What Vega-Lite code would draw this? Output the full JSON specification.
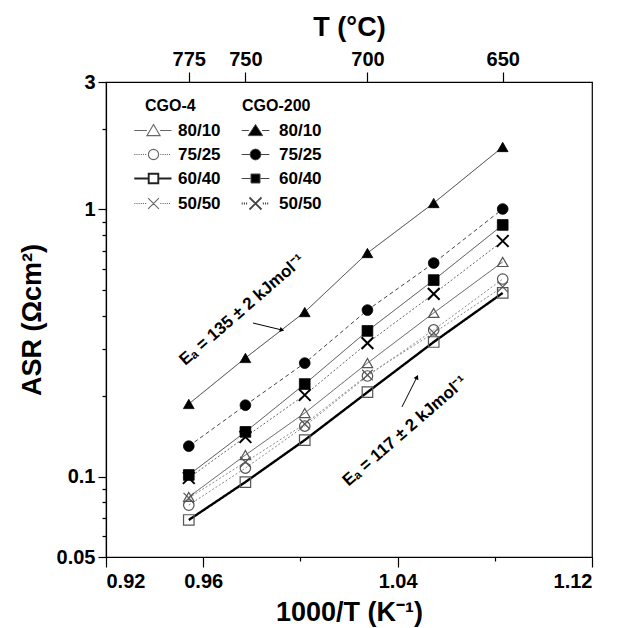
{
  "$schema": "https://vega.github.io/schema/vega-lite/v6.json",
  "width": 486,
  "height": 475,
  "autosize": {"type": "none"},
  "padding": {"left": 106, "top": 82, "right": 43, "bottom": 71},
  "background": "white",
  "config": {
    "font": "Liberation Sans",
    "view": {"stroke": "black", "strokeWidth": 1.2},
    "axis": {
      "domainColor": "black", "tickColor": "black", "labelColor": "black", "titleColor": "black",
      "labelFont": "Liberation Sans", "titleFont": "Liberation Sans",
      "labelFontWeight": "bold", "titleFontWeight": "bold",
      "labelFontSize": 20, "titleFontSize": 27, "grid": false,
      "domainWidth": 1.2, "tickWidth": 1.2
    },
    "legend": {
      "labelFont": "Liberation Sans", "labelFontSize": 17, "labelFontWeight": "bold", "labelColor": "black",
      "titleFont": "Liberation Sans", "titleFontSize": 16, "titleFontWeight": "bold", "titleColor": "black"
    }
  },
  "datasets": {
    "asr": [
      {"group": "CGO-200", "ratio": "80/10", "x": 0.95407, "asr": 0.187},
      {"group": "CGO-200", "ratio": "80/10", "x": 0.97737, "asr": 0.278},
      {"group": "CGO-200", "ratio": "80/10", "x": 1.00179, "asr": 0.413},
      {"group": "CGO-200", "ratio": "80/10", "x": 1.02759, "asr": 0.687},
      {"group": "CGO-200", "ratio": "80/10", "x": 1.05486, "asr": 1.057},
      {"group": "CGO-200", "ratio": "80/10", "x": 1.08325, "asr": 1.713},
      {"group": "CGO-200", "ratio": "75/25", "x": 0.95407, "asr": 0.130},
      {"group": "CGO-200", "ratio": "75/25", "x": 0.97737, "asr": 0.185},
      {"group": "CGO-200", "ratio": "75/25", "x": 1.00179, "asr": 0.266},
      {"group": "CGO-200", "ratio": "75/25", "x": 1.02759, "asr": 0.420},
      {"group": "CGO-200", "ratio": "75/25", "x": 1.05486, "asr": 0.630},
      {"group": "CGO-200", "ratio": "75/25", "x": 1.08325, "asr": 1.004},
      {"group": "CGO-200", "ratio": "60/40", "x": 0.95407, "asr": 0.1014},
      {"group": "CGO-200", "ratio": "60/40", "x": 0.97737, "asr": 0.147},
      {"group": "CGO-200", "ratio": "60/40", "x": 1.00179, "asr": 0.222},
      {"group": "CGO-200", "ratio": "60/40", "x": 1.02759, "asr": 0.351},
      {"group": "CGO-200", "ratio": "60/40", "x": 1.05486, "asr": 0.544},
      {"group": "CGO-200", "ratio": "60/40", "x": 1.08325, "asr": 0.875},
      {"group": "CGO-200", "ratio": "50/50", "x": 0.95407, "asr": 0.0988},
      {"group": "CGO-200", "ratio": "50/50", "x": 0.97737, "asr": 0.1407},
      {"group": "CGO-200", "ratio": "50/50", "x": 1.00179, "asr": 0.202},
      {"group": "CGO-200", "ratio": "50/50", "x": 1.02759, "asr": 0.316},
      {"group": "CGO-200", "ratio": "50/50", "x": 1.05486, "asr": 0.483},
      {"group": "CGO-200", "ratio": "50/50", "x": 1.08325, "asr": 0.762},
      {"group": "CGO-4", "ratio": "80/10", "x": 0.95407, "asr": 0.0839},
      {"group": "CGO-4", "ratio": "80/10", "x": 0.97737, "asr": 0.1204},
      {"group": "CGO-4", "ratio": "80/10", "x": 1.00179, "asr": 0.173},
      {"group": "CGO-4", "ratio": "80/10", "x": 1.02759, "asr": 0.266},
      {"group": "CGO-4", "ratio": "80/10", "x": 1.05486, "asr": 0.410},
      {"group": "CGO-4", "ratio": "80/10", "x": 1.08325, "asr": 0.636},
      {"group": "CGO-4", "ratio": "75/25", "x": 0.95407, "asr": 0.0782},
      {"group": "CGO-4", "ratio": "75/25", "x": 0.97737, "asr": 0.1076},
      {"group": "CGO-4", "ratio": "75/25", "x": 1.00179, "asr": 0.1546},
      {"group": "CGO-4", "ratio": "75/25", "x": 1.02759, "asr": 0.238},
      {"group": "CGO-4", "ratio": "75/25", "x": 1.05486, "asr": 0.354},
      {"group": "CGO-4", "ratio": "75/25", "x": 1.08325, "asr": 0.549},
      {"group": "CGO-4", "ratio": "60/40", "x": 0.95407, "asr": 0.0688},
      {"group": "CGO-4", "ratio": "60/40", "x": 0.97737, "asr": 0.0954},
      {"group": "CGO-4", "ratio": "60/40", "x": 1.00179, "asr": 0.137},
      {"group": "CGO-4", "ratio": "60/40", "x": 1.02759, "asr": 0.207},
      {"group": "CGO-4", "ratio": "60/40", "x": 1.05486, "asr": 0.319},
      {"group": "CGO-4", "ratio": "60/40", "x": 1.08325, "asr": 0.487},
      {"group": "CGO-4", "ratio": "50/50", "x": 0.95407, "asr": 0.0831},
      {"group": "CGO-4", "ratio": "50/50", "x": 0.97737, "asr": 0.1134},
      {"group": "CGO-4", "ratio": "50/50", "x": 1.00179, "asr": 0.1573},
      {"group": "CGO-4", "ratio": "50/50", "x": 1.02759, "asr": 0.240},
      {"group": "CGO-4", "ratio": "50/50", "x": 1.05486, "asr": 0.345},
      {"group": "CGO-4", "ratio": "50/50", "x": 1.08325, "asr": 0.513}
    ],
    "notes": [
      {"label": "Eₐ = 135 ± 2 kJmol⁻¹", "x": 0.976, "asr": 0.42},
      {"label": "Eₐ = 117 ± 2 kJmol⁻¹", "x": 1.043, "asr": 0.148}
    ],
    "arrows": [
      {"id": "upper", "end": 0, "x": 0.9805, "asr": 0.3757},
      {"id": "upper", "end": 1, "x": 0.99243, "asr": 0.3537},
      {"id": "lower", "end": 0, "x": 1.04181, "asr": 0.1823},
      {"id": "lower", "end": 1, "x": 1.04798, "asr": 0.2359}
    ]
  },
  "encoding": {
    "x": {"field": "x", "type": "quantitative", "scale": {"type": "linear", "domain": [0.92, 1.12], "nice": false, "zero": false}, "axis": null},
    "y": {
      "field": "asr", "type": "quantitative",
      "scale": {"type": "log", "domain": [0.05, 3], "nice": false},
      "axis": {
        "title": "ASR (Ωcm²)", "orient": "left",
        "values": [0.05, 0.06, 0.07, 0.08, 0.09, 0.1, 0.2, 0.3, 0.4, 0.5, 0.6, 0.7, 0.8, 0.9, 1, 2, 3],
        "labelExpr": "datum.value === 3 ? '3' : datum.value === 1 ? '1' : datum.value === 0.1 ? '0.1' : datum.value === 0.05 ? '0.05' : ''",
        "tickSize": {"condition": {"test": "datum.value === 3 || datum.value === 1 || datum.value === 0.1 || datum.value === 0.05", "value": 8}, "value": 4},
        "labelPadding": 3, "titlePadding": 10, "labelOverlap": false
      }
    }
  },
  "layer": [
    {
      "data": {"name": "asr"},
      "transform": [{"filter": "datum.group === 'CGO-4'"}],
      "mark": {"type": "line"},
      "encoding": {
        "x": {"field": "x", "type": "quantitative", "scale": {"type": "linear", "domain": [0.92, 1.12], "nice": false, "zero": false},
          "axis": {
            "title": "1000/T (K⁻¹)", "orient": "bottom",
            "values": [0.92, 0.96, 1.0, 1.04, 1.08, 1.12],
            "labelExpr": "datum.value === 1 || abs(datum.value - 1.08) < 0.0001 ? '' : format(datum.value, '.2f')",
            "tickSize": {"condition": {"test": "datum.value === 1 || abs(datum.value - 1.08) < 0.0001", "value": 4}, "value": 10},
            "labelPadding": 4, "titlePadding": 8, "labelOverlap": false
          }},
        "color": {"field": "ratio", "type": "nominal", "scale": {"type": "ordinal", "domain": ["80/10", "75/25", "60/40", "50/50"], "range": ["#555555", "#8a8a8a", "#000000", "#8a8a8a"]}, "legend": null},
        "strokeDash": {"field": "ratio", "type": "nominal", "scale": {"type": "ordinal", "domain": ["80/10", "75/25", "60/40", "50/50"], "range": [[1, 0], [2, 2], [1, 0], [2, 2]]}, "legend": null},
        "strokeWidth": {"field": "ratio", "type": "nominal", "scale": {"type": "ordinal", "domain": ["80/10", "75/25", "60/40", "50/50"], "range": [1, 1, 2.4, 1]}, "legend": null}
      }
    },
    {
      "data": {"name": "asr"},
      "transform": [{"filter": "datum.group === 'CGO-200'"}],
      "mark": {"type": "line"},
      "encoding": {
        "color": {"field": "ratio", "type": "nominal", "scale": {"type": "ordinal", "domain": ["80/10", "75/25", "60/40", "50/50"], "range": ["#333333", "#444444", "#444444", "#666666"]}, "legend": null},
        "strokeDash": {"field": "ratio", "type": "nominal", "scale": {"type": "ordinal", "domain": ["80/10", "75/25", "60/40", "50/50"], "range": [[1, 0], [4, 3], [1, 0], [2, 2]]}, "legend": null},
        "strokeWidth": {"field": "ratio", "type": "nominal", "scale": {"type": "ordinal", "domain": ["80/10", "75/25", "60/40", "50/50"], "range": [1, 1, 1, 1]}, "legend": null}
      }
    },
    {
      "data": {"name": "asr"},
      "transform": [{"filter": "datum.group === 'CGO-4'"}],
      "mark": {"type": "point", "filled": false, "stroke": "#555555", "strokeWidth": 1.2, "size": 110, "opacity": 1},
      "encoding": {
        "x": {"field": "x", "type": "quantitative", "scale": {"type": "linear", "domain": [0.92, 1.12], "nice": false, "zero": false},
          "axis": {
            "title": "T (°C)", "orient": "top",
            "values": [0.95407, 0.97737, 1.02759, 1.08325],
            "labelExpr": "format(1000 / datum.value - 273.15, '.0f')",
            "tickSize": 10, "labelPadding": 3, "titlePadding": 8, "labelOverlap": false
          }},
        "shape": {
          "field": "ratio", "type": "nominal",
          "scale": {"domain": ["80/10", "75/25", "60/40", "50/50"], "range": ["triangle-up", "circle", "square", "M-1,-1L1,1M1,-1L-1,1"]},
          "legend": null
        }
      }
    },
    {
      "data": {"name": "asr"},
      "transform": [{"filter": "datum.group === 'CGO-200'"}],
      "mark": {"type": "point", "filled": true, "fill": "black", "stroke": "black", "size": 115, "opacity": 1},
      "encoding": {
        "strokeWidth": {"field": "ratio", "type": "nominal", "scale": {"type": "ordinal", "domain": ["80/10", "75/25", "60/40", "50/50"], "range": [0.8, 0.8, 0.8, 2]}, "legend": null},
        "shape": {
          "field": "ratio", "type": "nominal",
          "scale": {"domain": ["80/10", "75/25", "60/40", "50/50"], "range": ["triangle-up", "circle", "square", "M-1.1,-1.1L1.1,1.1M1.1,-1.1L-1.1,1.1"]},
          "legend": null
        }
      }
    },
    {
      "data": {"name": "asr"},
      "transform": [{"filter": "datum.group === 'legend-only'"}],
      "mark": {"type": "point", "filled": false, "size": 144, "opacity": 1},
      "encoding": {
        "shape": {
          "field": "ratio", "type": "nominal",
          "scale": {"domain": ["80/10", "75/25", "60/40", "50/50"], "range": [
            "M-3.2,0H-1.1M1.1,0H3.0M0,-1L1.1,0.85L-1.1,0.85Z",
            "M-3.2,0h0.18m0.18,0h0.18m0.18,0h0.18m0.18,0h0.18m0.18,0h0.18m0.18,0h0.18M1.14,0h0.18m0.18,0h0.18m0.18,0h0.18m0.18,0h0.18m0.18,0h0.18M0.85,0A0.85,0.85,0,1,1,-0.85,0A0.85,0.85,0,1,1,0.85,0Z",
            "M-3.2,0H-0.85M0.85,0H3.0M-0.8,-0.8H0.8V0.8H-0.8Z",
            "M-3.2,0h0.18m0.18,0h0.18m0.18,0h0.18m0.18,0h0.18m0.18,0h0.18m0.18,0h0.18M1.14,0h0.18m0.18,0h0.18m0.18,0h0.18m0.18,0h0.18m0.18,0h0.18M-0.9,-0.9L0.9,0.9M0.9,-0.9L-0.9,0.9"
          ]},
          "legend": {"title": "CGO-4", "orient": "none", "legendX": 39, "legendY": 16, "padding": 0, "symbolSize": 144, "symbolOffset": 0, "labelOffset": 16, "rowPadding": 6, "titlePadding": 8}
        },
        "stroke": {
          "field": "ratio", "type": "nominal",
          "scale": {"type": "ordinal", "domain": ["80/10", "75/25", "60/40", "50/50"], "range": ["#666666", "#666666", "#222222", "#666666"]},
          "legend": {"title": "CGO-4", "orient": "none", "legendX": 39, "legendY": 16, "padding": 0, "symbolSize": 144, "symbolOffset": 0, "labelOffset": 16, "rowPadding": 6, "titlePadding": 8}
        },
        "strokeWidth": {
          "field": "ratio", "type": "nominal",
          "scale": {"type": "ordinal", "domain": ["80/10", "75/25", "60/40", "50/50"], "range": [1.1, 1.1, 1.9, 1.1]},
          "legend": {"title": "CGO-4", "orient": "none", "legendX": 39, "legendY": 16, "padding": 0, "symbolSize": 144, "symbolOffset": 0, "labelOffset": 16, "rowPadding": 6, "titlePadding": 8}
        }
      }
    },
    {
      "data": {"name": "asr"},
      "transform": [{"filter": "datum.group === 'legend-only'"}],
      "mark": {"type": "point", "filled": true, "fill": "black", "stroke": "#444444", "size": 144, "opacity": 1},
      "encoding": {
        "shape": {
          "field": "ratio", "type": "nominal",
          "scale": {"domain": ["80/10", "75/25", "60/40", "50/50"], "range": [
            "M-2.3,0H-1.1M1.1,0H2.3M0,-1L1.2,0.85L-1.2,0.85Z",
            "M-2.3,0H-0.9M0.9,0H2.3M0.9,0A0.9,0.9,0,1,1,-0.9,0A0.9,0.9,0,1,1,0.9,0Z",
            "M-2.3,0H-0.8M0.8,0H2.3M-0.75,-0.75H0.75V0.75H-0.75Z",
            "M-2.3,0h0.18m0.18,0h0.18m0.18,0h0.18M1.22,0h0.18m0.18,0h0.18m0.18,0h0.18M-1,-1L1,1M1,-1L-1,1"
          ]},
          "legend": {"title": "CGO-200", "orient": "none", "legendX": 136, "legendY": 16, "padding": 0, "symbolSize": 144, "symbolOffset": 5, "labelOffset": 15, "rowPadding": 6, "titlePadding": 8}
        },
        "strokeWidth": {
          "field": "ratio", "type": "nominal",
          "scale": {"type": "ordinal", "domain": ["80/10", "75/25", "60/40", "50/50"], "range": [1, 1, 1, 1.8]},
          "legend": {"title": "CGO-200", "orient": "none", "legendX": 136, "legendY": 16, "padding": 0, "symbolSize": 144, "symbolOffset": 5, "labelOffset": 15, "rowPadding": 6, "titlePadding": 8}
        }
      }
    },
    {
      "data": {"name": "notes"},
      "mark": {"type": "text", "angle": -41, "font": "Liberation Sans", "fontSize": 17, "fontWeight": "bold", "align": "center", "baseline": "middle", "color": "black"},
      "encoding": {"text": {"field": "label", "type": "nominal"}}
    },
    {
      "data": {"name": "arrows"},
      "mark": {"type": "line", "color": "black", "strokeWidth": 1},
      "encoding": {"detail": {"field": "id", "type": "nominal"}, "order": {"field": "end", "type": "quantitative"}}
    },
    {
      "data": {"name": "arrows"},
      "transform": [{"filter": "datum.id === 'upper' && datum.end === 1"}],
      "mark": {"type": "point", "shape": "triangle-right", "angle": 14, "filled": true, "color": "black", "size": 28, "opacity": 1}
    },
    {
      "data": {"name": "arrows"},
      "transform": [{"filter": "datum.id === 'lower' && datum.end === 1"}],
      "mark": {"type": "point", "shape": "triangle-up", "angle": 26, "filled": true, "color": "black", "size": 28, "opacity": 1}
    }
  ],
  "resolve": {
    "scale": {"shape": "independent", "strokeDash": "independent", "strokeWidth": "independent", "color": "independent", "stroke": "independent"},
    "axis": {"x": "independent"},
    "legend": {"shape": "independent", "stroke": "independent", "strokeWidth": "independent"}
  }
}
